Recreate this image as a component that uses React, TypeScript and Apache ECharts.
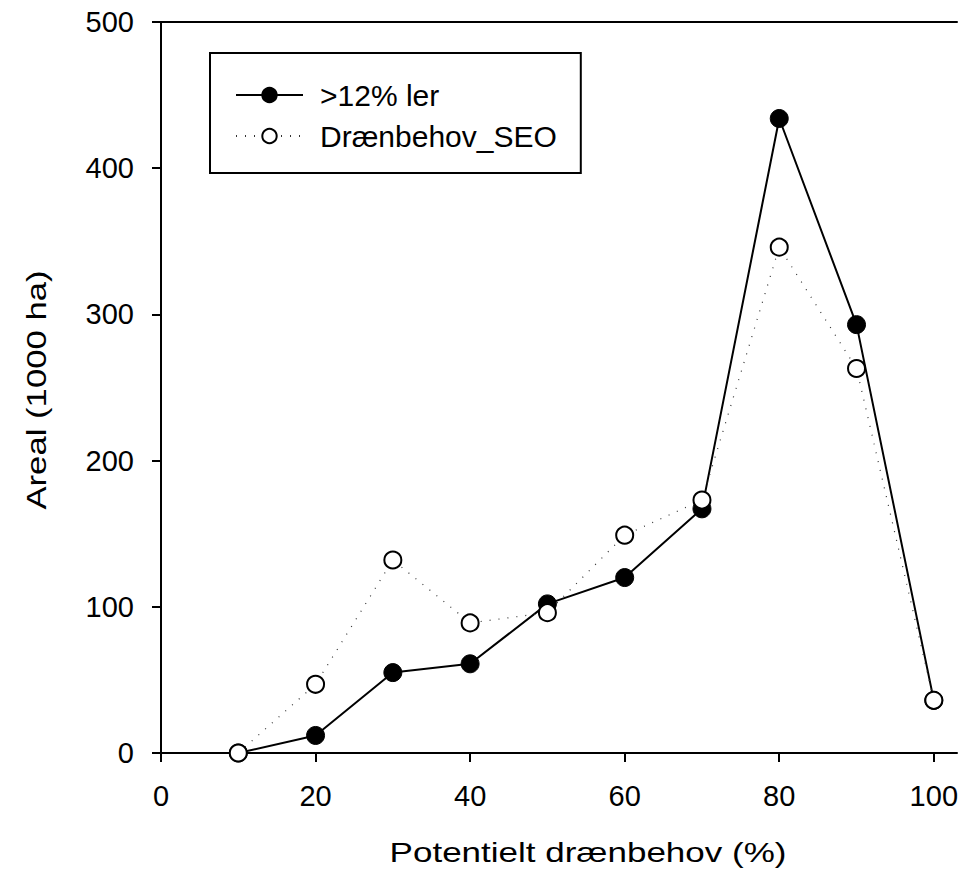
import React, { useEffect, useRef } from "react";
import * as echarts from "echarts";

const xValues = [10, 20, 30, 40, 50, 60, 70, 80, 90, 100];
const lerValues = [0, 12, 55, 61, 102, 120, 167, 434, 293, 36];
const seoValues = [0, 47, 132, 89, 96, 149, 173, 346, 263, 36];
const xTicks = [0, 20, 40, 60, 80, 100];
const yTicks = [0, 100, 200, 300, 400, 500];
const seriesNames = [">12% ler", "Drænbehov_SEO"];
const xTitle = "Potentielt drænbehov (%)";
const yTitle = "Areal (1000 ha)";

const FONT = '"Liberation Sans", Arial, sans-serif';

export default function App() {
  const ref = useRef<HTMLDivElement>(null);
  useEffect(() => {
    if (!ref.current) return;
    const chart = echarts.init(ref.current, undefined, { renderer: "svg" });
    chart.setOption({
      animation: false,
      backgroundColor: "#fff",
      textStyle: { fontFamily: FONT },
      grid: {
        left: 161,
        top: 22,
        right: 0,
        height: 731,
      },
      legend: {
        left: 210,
        top: 53,
        orient: "vertical",
        data: seriesNames,
        itemWidth: 67,
        itemHeight: 18,
        itemGap: 11,
        padding: [27, 24, 22, 25],
        borderColor: "#000",
        borderWidth: 2,
        textStyle: { fontSize: 30, color: "#000", fontFamily: FONT, lineHeight: 30, padding: [0, 0, 0, 12] },
      },
      xAxis: [
        {
          type: "value",
          min: 0,
          max: 103,
          interval: 20,
          axisLine: { lineStyle: { color: "#000", width: 2 } },
          axisTick: { show: true, inside: false, length: 9, customValues: xTicks, lineStyle: { color: "#000", width: 2 } },
          axisLabel: { fontSize: 29, color: "#000", margin: 28, fontFamily: FONT, customValues: xTicks },
          splitLine: { show: false },
        },
        {
          type: "value",
          position: "top",
          min: 0,
          max: 103,
          interval: 20,
          axisLine: { show: true, onZero: false, lineStyle: { color: "#000", width: 2 } },
          axisTick: { show: false },
          axisLabel: { show: false },
          splitLine: { show: false },
        },
      ],
      yAxis: {
        type: "value",
        min: 0,
        max: 500,
        interval: 100,
        axisLine: { show: true, lineStyle: { color: "#000", width: 2 } },
        axisTick: { show: true, inside: false, length: 9, customValues: yTicks, lineStyle: { color: "#000", width: 2 } },
        axisLabel: { fontSize: 29, color: "#000", margin: 27, fontFamily: FONT, customValues: yTicks },
        splitLine: { show: false },
      },
      graphic: [
        {
          type: "text",
          x: 588,
          y: 852,
          scaleX: 1.25,
          style: { text: xTitle, font: `28px ${FONT}`, fill: "#000", align: "center", verticalAlign: "middle" },
        },
        {
          type: "text",
          x: 36,
          y: 390,
          rotation: Math.PI / 2,
          scaleX: 1.24,
          style: { text: yTitle, font: `28px ${FONT}`, fill: "#000", align: "center", verticalAlign: "middle" },
        },
      ],
      series: [
        {
          name: seriesNames[0],
          type: "line",
          xAxisIndex: 0,
          data: xValues.map((x, i) => [x, lerValues[i]]),
          symbol: "circle",
          symbolSize: 18,
          lineStyle: { color: "#000", width: 2 },
          itemStyle: { color: "#000", borderColor: "#000", borderWidth: 1 },
          z: 2,
        },
        {
          name: seriesNames[1],
          type: "line",
          xAxisIndex: 0,
          data: xValues.map((x, i) => [x, seoValues[i]]),
          symbol: "circle",
          symbolSize: 17,
          lineStyle: { color: "#333", width: 1.2, type: [1, 8] },
          itemStyle: { color: "#fff", borderColor: "#000", borderWidth: 2 },
          z: 3,
        },
      ],
    });
    return () => chart.dispose();
  }, []);
  return (
    <div
      ref={ref}
      style={{ position: "fixed", left: 0, top: 0, width: 961, height: 871, background: "#fff" }}
    />
  );
}
